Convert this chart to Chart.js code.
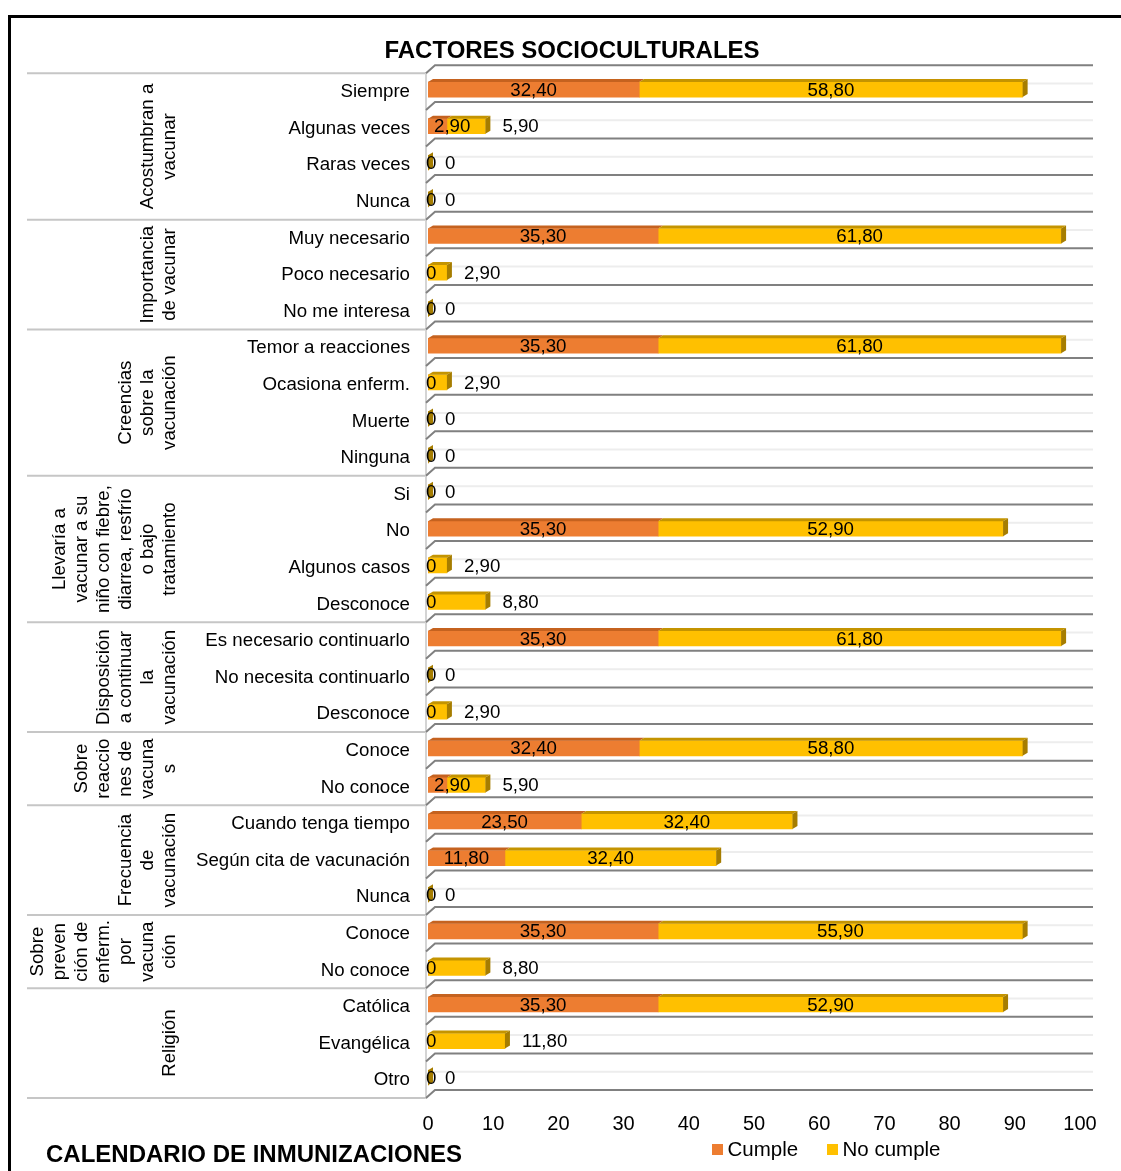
<!DOCTYPE html>
<html>
<head>
<meta charset="utf-8">
<script src="https://cdn.jsdelivr.net/npm/chart.js@4/dist/chart.umd.min.js"></script>
<style>
html,body{margin:0;padding:0;background:#fff;}
#wrap{position:relative;width:1121px;height:1171px;overflow:hidden;background:#fff;}
#frame{position:absolute;left:8px;top:15px;width:1300px;height:1300px;border:3px solid #000;box-sizing:border-box;}
#c{position:absolute;left:0;top:0;}
</style>
</head>
<body>
<div id="wrap"><div id="frame"></div><canvas id="c" width="1121" height="1171"></canvas></div>
<script>
// ---- data ----
const categories = ['Siempre','Algunas veces','Raras veces','Nunca',
  'Muy necesario','Poco necesario','No me interesa',
  'Temor a reacciones','Ocasiona enferm.','Muerte','Ninguna',
  'Si','No','Algunos casos','Desconoce',
  'Es necesario continuarlo','No necesita continuarlo','Desconoce',
  'Conoce','No conoce',
  'Cuando tenga tiempo','Según cita de vacunación','Nunca',
  'Conoce','No conoce',
  'Católica','Evangélica','Otro'];
const groupLabels = [
  ['Acostumbran a','vacunar'],
  ['Importancia','de vacunar'],
  ['Creencias','sobre la','vacunación'],
  ['Llevaría a','vacunar a su','niño con fiebre,','diarrea, resfrío','o bajo','tratamiento'],
  ['Disposición','a continuar','la','vacunación'],
  ['Sobre','reaccio','nes de','vacuna','s'],
  ['Frecuencia','de','vacunación'],
  ['Sobre','preven','ción de','enferm.','por','vacuna','ción'],
  ['Religión']
];
const groupSizes = [4,3,4,4,3,2,3,2,3];
const cumple   = [32.4,2.9,0,0, 35.3,0,0, 35.3,0,0,0, 0,35.3,0,0, 35.3,0,0, 32.4,2.9, 23.5,11.8,0, 35.3,0, 35.3,0,0];
const noCumple = [58.8,5.9,0,0, 61.8,2.9,0, 61.8,2.9,0,0, 0,52.9,2.9,8.8, 61.8,0,2.9, 58.8,5.9, 32.4,32.4,0, 55.9,8.8, 52.9,11.8,0];
const seriesNames = ['Cumple','No cumple'];
const xTickValues = [0,10,20,30,40,50,60,70,80,90,100];
const chartTitle = 'FACTORES SOCIOCULTURALES';
const bottomTitle = 'CALENDARIO DE INMUNIZACIONES';

// ---- style ----
const FONT = "'Liberation Sans', Arial, sans-serif";
const COLORS = ['#ED7D31','#FFC000'];
const TOPS = ['#C5621F','#C49400'];
const SIDES = ['#A9521A','#A67D00'];
Chart.defaults.font.family = FONT;
Chart.defaults.color = '#000';

const fmt = v => v === 0 ? '0' : v.toFixed(2).replace('.', ',');

const deco = {
  id: 'deco',
  beforeDatasetsDraw(chart) {
    const {ctx, chartArea: a} = chart;
    const n = categories.length;
    const h = (a.bottom - a.top) / n;
    const R = a.right + 13;
    ctx.save();
    ctx.strokeStyle = '#c6c6c6';
    ctx.lineWidth = 2;
    let idx = 0;
    const bounds = [0];
    groupSizes.forEach(s => { idx += s; bounds.push(idx); });
    bounds.forEach(b => {
      const yy = a.top + b * h;
      ctx.beginPath(); ctx.moveTo(27, yy); ctx.lineTo(a.left - 1, yy); ctx.stroke();
    });
    ctx.strokeStyle = '#d4d4d4';
    ctx.beginPath(); ctx.moveTo(a.left - 2, a.top - 1); ctx.lineTo(a.left - 2, a.bottom + 1); ctx.stroke();
    ctx.strokeStyle = '#ededed';
    for (let i = 0; i < n; i++) {
      const yc = a.top + (i + 0.5) * h - 8;
      ctx.beginPath(); ctx.moveTo(a.left + 6, yc); ctx.lineTo(R, yc); ctx.stroke();
    }
    ctx.strokeStyle = '#808080';
    for (let i = 0; i <= n; i++) {
      const yb = a.top + i * h;
      ctx.beginPath();
      ctx.moveTo(a.left - 2, yb);
      ctx.lineTo(a.left + 7, yb - 8);
      ctx.lineTo(R, yb - 8);
      ctx.stroke();
    }
    ctx.restore();
    ctx.save();
    ctx.translate(0, -2);
  },
  afterDatasetsDraw(chart) {
    const ctx = chart.ctx;
    const dx = 5, dy = 3;
    const last = chart.data.datasets.length - 1;
    chart.data.datasets.forEach((ds, di) => {
      const meta = chart.getDatasetMeta(di);
      meta.data.forEach(bar => {
        const p = bar.getProps(['x','y','base','height'], true);
        const top = p.y - p.height / 2, bot = p.y + p.height / 2;
        const x0 = Math.min(p.x, p.base), x1 = Math.max(p.x, p.base);
        if (x1 - x0 > 0.5) {
          ctx.fillStyle = TOPS[di];
          ctx.beginPath();
          ctx.moveTo(x0, top); ctx.lineTo(x0 + dx, top - dy);
          ctx.lineTo(x1 + dx, top - dy); ctx.lineTo(x1, top);
          ctx.closePath(); ctx.fill();
        }
        if (di === last) {
          ctx.fillStyle = SIDES[di];
          ctx.beginPath();
          ctx.moveTo(x1, top); ctx.lineTo(x1 + dx, top - dy);
          ctx.lineTo(x1 + dx, bot - dy); ctx.lineTo(x1, bot);
          ctx.closePath(); ctx.fill();
        }
      });
    });
    ctx.restore();
  },
  afterDraw(chart) {
    const {ctx, chartArea: a} = chart;
    const n = categories.length;
    const h = (a.bottom - a.top) / n;
    ctx.save();
    ctx.fillStyle = '#000';
    ctx.font = '18.7px ' + FONT;
    ctx.textBaseline = 'middle';
    chart.data.datasets.forEach((ds, di) => {
      const meta = chart.getDatasetMeta(di);
      meta.data.forEach((bar, i) => {
        const v = ds.data[i];
        const p = bar.getProps(['x','y','base'], true);
        const t = fmt(v);
        const w = ctx.measureText(t).width;
        const seg = p.x - p.base;
        const ty = p.y - 1;
        const fits = di === 0 ? (v > 0 && w + 4 < seg) : (v > 0 && seg > 100);
        if (fits) {
          ctx.textAlign = 'center';
          ctx.fillText(t, (p.x + p.base) / 2, ty);
        } else if (di === 0) {
          ctx.textAlign = 'left';
          ctx.fillText(t, p.base + (v === 0 ? -2 : 6), ty);
        } else {
          ctx.textAlign = 'left';
          ctx.fillText(t, p.x + 17, ty);
        }
      });
    });
    ctx.textAlign = 'right';
    categories.forEach((c, i) => {
      ctx.fillText(c, 410, a.top + (i + 0.5) * h + 0.5);
    });
    ctx.textAlign = 'center';
    let start = 0;
    groupLabels.forEach((lines, g) => {
      const yc = a.top + (start + groupSizes[g] / 2) * h;
      const m = lines.length;
      lines.forEach((ln, k) => {
        const xc = 170 - (m - 1 - k) * 22;
        ctx.save();
        ctx.translate(xc, yc);
        ctx.rotate(-Math.PI / 2);
        ctx.fillText(ln, 0, 0);
        ctx.restore();
      });
      start += groupSizes[g];
    });
    ctx.font = 'bold 24px ' + FONT;
    ctx.textAlign = 'center';
    ctx.fillText(chartTitle, 572, 51);
    ctx.fillText(bottomTitle, 254, 1155);
    ctx.font = '20.5px ' + FONT;
    ctx.textAlign = 'left';
    const lx = [712, 827];
    seriesNames.forEach((s, k) => {
      ctx.fillStyle = COLORS[k];
      ctx.fillRect(lx[k], 1144, 11, 11);
      ctx.fillStyle = '#000';
      ctx.fillText(s, lx[k] + 15.5, 1150);
    });
    ctx.restore();
  }
};

new Chart(document.getElementById('c'), {
  type: 'bar',
  data: {
    labels: categories,
    datasets: [
      {label: seriesNames[0], data: cumple, backgroundColor: COLORS[0], barThickness: 15},
      {label: seriesNames[1], data: noCumple, backgroundColor: COLORS[1], barThickness: 15}
    ]
  },
  options: {
    indexAxis: 'y',
    responsive: false,
    animation: false,
    devicePixelRatio: 1,
    layout: {padding: {left: 428, right: 41, top: 73.3, bottom: 21}},
    scales: {
      x: {
        stacked: true, min: 0, max: 100,
        afterBuildTicks: s => { s.ticks = xTickValues.map(v => ({value: v})); },
        ticks: {color: '#000', font: {size: 20}, padding: 14, maxRotation: 0},
        grid: {display: false, drawTicks: false},
        border: {display: false}
      },
      y: {stacked: true, display: false}
    },
    plugins: {legend: {display: false}, tooltip: {enabled: false}, title: {display: false}}
  },
  plugins: [deco]
});
</script>
</body>
</html>
